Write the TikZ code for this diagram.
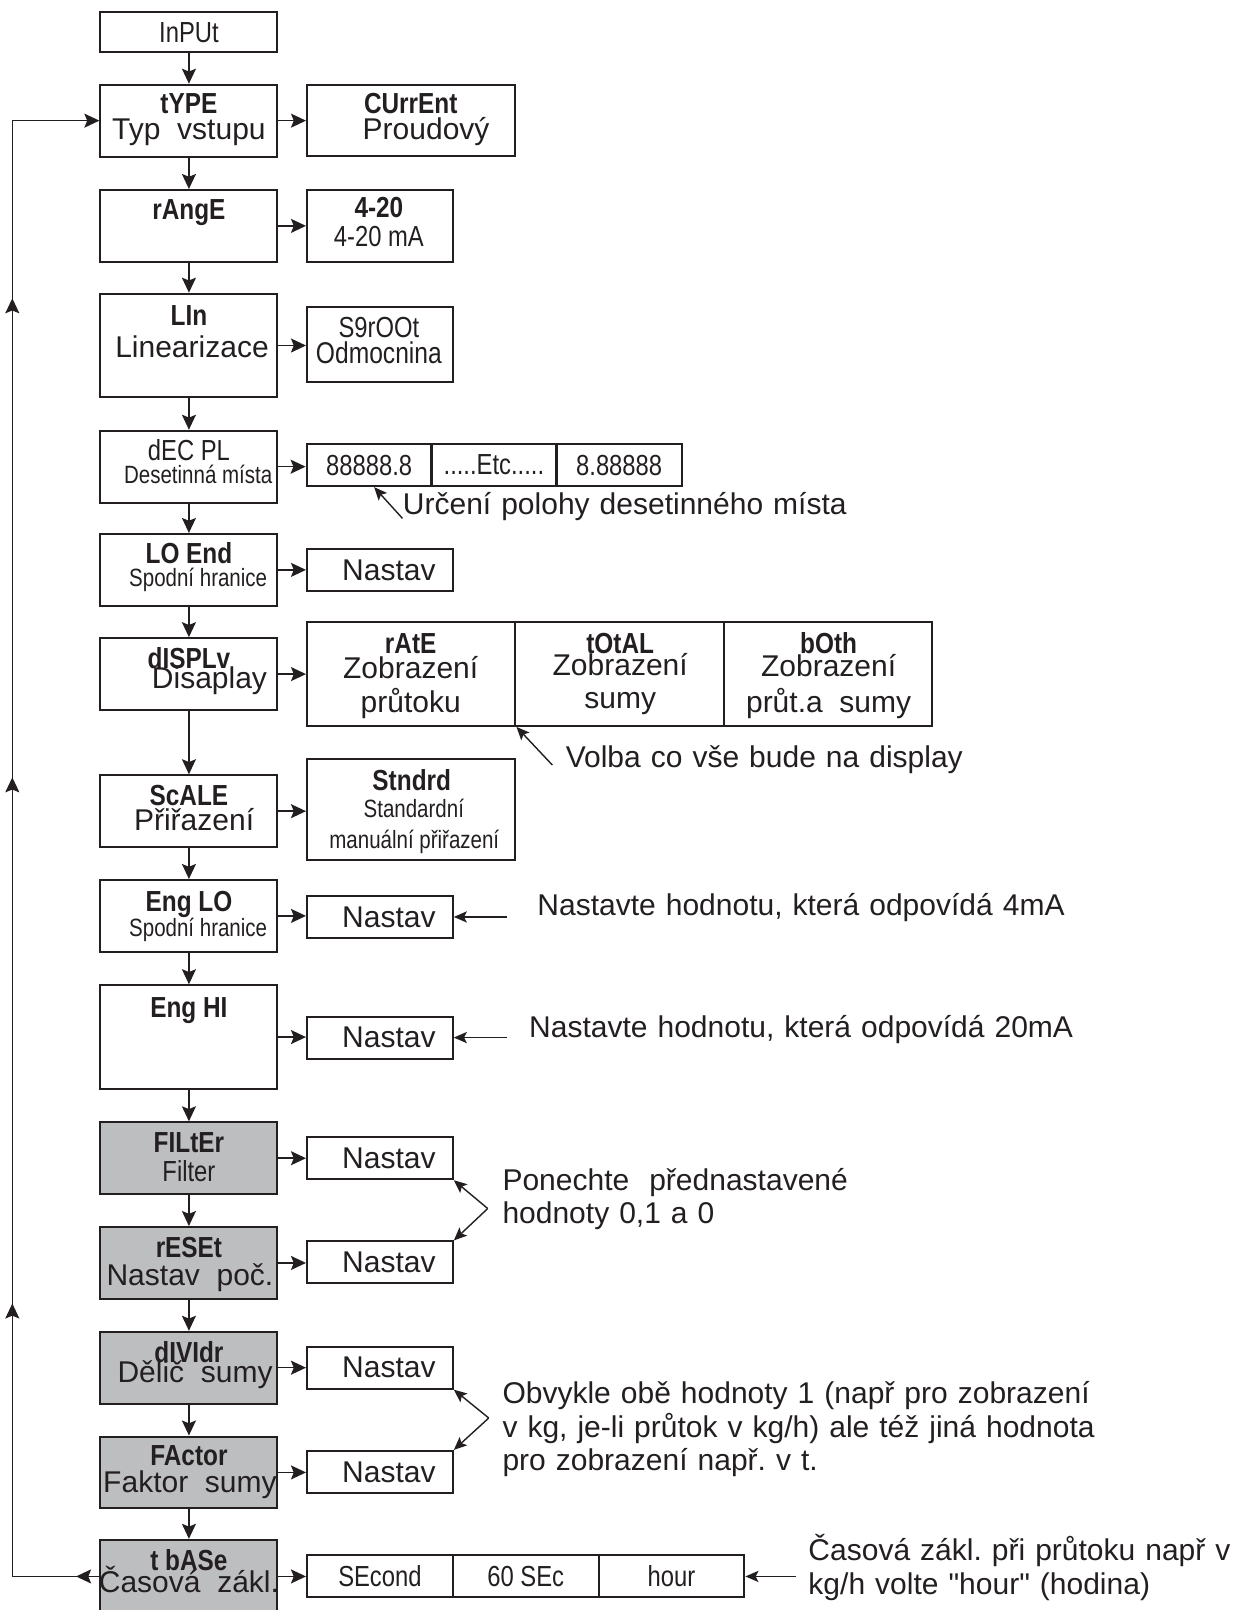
\documentclass[tikz,border=0pt]{standalone}
\usepackage{fontspec}
\setmainfont{Liberation Sans}
\newfontfamily\narrowfont[FakeStretch=0.82]{Liberation Sans}
\newfontfamily\headfont[FakeStretch=0.84]{Liberation Sans}
\usepackage{xcolor}
\usepackage{tikz}
\usetikzlibrary{arrows.meta,decorations.markings}
\frenchspacing

\definecolor{ink}{HTML}{231F20}
\definecolor{panel}{HTML}{BCBEC0}
\newcommand\straightq{{\addfontfeature{Ligatures=TeXOff}"}}

\begin{document}
\begin{tikzpicture}[
    x=0.5132pt, y=-0.5132pt,
    every node/.style={inner sep=0pt, text=ink},
    box/.style={draw=ink, line width=1pt, minimum width=88.5pt, minimum height=35.9pt},
    tallbox/.style={box, minimum height=51.8pt},
    greybox/.style={box, fill=panel},
    opt/.style={draw=ink, line width=1pt, minimum width=72.9pt, minimum height=21pt},
    wideopt/.style={opt, minimum width=104.2pt},
    cell/.style={opt, minimum width=62.5pt, nfont},
    nst/.style={opt, rfont, node contents={\hspace*{9pt}Nastav}},
    hfont/.style={font=\headfont\bfseries\fontsize{14.5}{16}\selectfont},
    rfont/.style={font=\fontsize{15}{17}\selectfont},
    nfont/.style={font=\narrowfont\fontsize{14.5}{16}\selectfont},
    sfont/.style={font=\narrowfont\fontsize{12.5}{14}\selectfont},
    hd/.style={hfont, anchor=base},
    tx/.style={rfont, anchor=base},
    nr/.style={nfont, anchor=base},
    sm/.style={sfont, anchor=base},
    note/.style={font=\fontsize{15}{16.7}\selectfont, anchor=base west, text width=330pt, align=left},
    arr/.style={-{Stealth[length=7.5pt,width=7pt,inset=1.4pt]}, draw=ink, line width=0.8pt},
    ptr/.style={-{Stealth[length=6.5pt,width=5.6pt,inset=1.4pt]}, draw=ink, line width=0.7pt},
    loopback/.style={postaction={decorate}, decoration={markings,
        mark=at position 0.0143 with {\arrow{Stealth[length=7.5pt,width=7pt,inset=1.4pt]}},
        mark=at position 0.2209 with {\arrow{Stealth[length=7.5pt,width=7pt,inset=1.4pt]}},
        mark=at position 0.5437 with {\arrow{Stealth[length=7.5pt,width=7pt,inset=1.4pt]}},
        mark=at position 0.8376 with {\arrow{Stealth[length=7.5pt,width=7pt,inset=1.4pt]}}}}
]
\useasboundingbox (0,0) rectangle (1210,1568);

% main column
\node[box, minimum height=20pt, nfont] (input) at (184,31.5) {InPUt};
\node[box] (type) at (184,117.5) {};
\node[box] (range) at (184,220) {};
\node[tallbox] (lin) at (184,336.5) {};
\node[box] (decpl) at (184,454.5) {};
\node[box] (loend) at (184,555) {};
\node[box] (displ) at (184,656.5) {};
\node[box] (scale) at (184,790) {};
\node[box] (englo) at (184,892) {};
\node[tallbox] (enghi) at (184,1010) {};
\node[greybox] (filter) at (184,1128) {};
\node[greybox] (reset) at (184,1230) {};
\node[greybox] (divider) at (184,1332) {};
\node[greybox] (factor) at (184,1434) {};
\node[greybox, minimum height=36.6pt] (tbase) at (184,1535.3) {};

\node[hd] (type-h) at (184,111) {tYPE};
\node[tx] (type-s) at (184,136) {Typ\ \ vstupu};
\node[hd] (range-h) at (184,214) {rAngE};
\node[hd] (lin-h) at (184,317) {LIn};
\node[tx] (lin-s) at (187,348) {Linearizace};
\node[nr] (decpl-h) at (184,448) {dEC PL};
\node[sm] (decpl-s) at (193,471) {Desetinná místa};
\node[hd] (loend-h) at (184,549) {LO End};
\node[sm] (loend-s) at (193,571) {Spodní hranice};
\node[hd] (displ-h) at (184,651) {dISPLv};
\node[tx] (displ-s) at (204,671) {Disaplay};
\node[hd] (scale-h) at (184,784.5) {ScALE};
\node[tx] (scale-s) at (189,809) {Přiřazení};
\node[hd] (englo-h) at (184,888) {Eng LO};
\node[sm] (englo-s) at (193,912.5) {Spodní hranice};
\node[hd] (enghi-h) at (184,990.5) {Eng HI};
\node[hd] (filter-h) at (184,1122) {FILtEr};
\node[nr] (filter-s) at (184,1151) {Filter};
\node[hd] (reset-h) at (184,1224.5) {rESEt};
\node[tx] (reset-s) at (185,1252) {Nastav\ \ poč.};
\node[hd] (divider-h) at (184,1327) {dIVIdr};
\node[tx] (divider-s) at (190,1346) {Dělič\ \ sumy};
\node[hd] (factor-h) at (184,1427.5) {FActor};
\node[tx] (factor-s) at (185,1453.5) {Faktor\ \ sumy};
\node[hd] (tbase-h) at (184,1529.5) {t bASe};
\node[tx] (tbase-s) at (184,1550.5) {Časová\ \ zákl.};

% options
\node[wideopt, minimum height=35.4pt] (current) at (400.5,117.5) {};
\node[opt, minimum height=35.9pt] (r420) at (370,220) {};
\node[opt, minimum height=37.5pt] (sqrt) at (370,335.5) {};
\node[cell] (dec1) at (359.5,453) {88888.8};
\node[cell] (dec2) at (481,453) {.....Etc.....};
\node[cell] (dec3) at (603,453) {8.88888};
\node (loset) at (370,555) [nst];
\node[wideopt, minimum height=51.8pt] (rate) at (400.5,656.5) {};
\node[wideopt, minimum height=51.8pt] (total) at (603.5,656.5) {};
\node[wideopt, minimum height=51.8pt] (both) at (806.5,656.5) {};
\node[wideopt, minimum height=50.8pt] (stndrd) at (400.5,788.5) {};
\node (engloset) at (370,893) [nst];
\node (enghiset) at (370,1010.5) [nst];
\node (filterset) at (370,1128) [nst];
\node (resetset) at (370,1229.5) [nst];
\node (dividerset) at (370,1332) [nst];
\node (factorset) at (370,1433.5) [nst];
\node[opt, nfont] (sec) at (370,1535.3) {SEcond};
\node[opt, nfont] (sixty) at (512,1535.3) {60 SEc};
\node[opt, nfont] (hour) at (654,1535.3) {hour};

\node[hd] (current-h) at (400,111) {CUrrEnt};
\node[tx] (current-s) at (415,136) {Proudový};
\node[hd] (r420-h) at (369,212) {4-20};
\node[nr] (r420-s) at (369,240) {4-20 mA};
\node[nr] (sqrt-h) at (369,329) {S9rOOt};
\node[nr, font=\narrowfont\fontsize{15}{17}\selectfont] (sqrt-s) at (369,354) {Odmocnina};
\node[hd] (rate-h) at (400,636) {rAtE};
\node[tx] (rate-a) at (400,660.5) {Zobrazení};
\node[tx] (rate-b) at (400,693.5) {průtoku};
\node[hd] (total-h) at (604,636) {tOtAL};
\node[tx] (total-a) at (604,658) {Zobrazení};
\node[tx] (total-b) at (604,690) {sumy};
\node[hd] (both-h) at (807,636) {bOth};
\node[tx] (both-a) at (807,659) {Zobrazení};
\node[tx] (both-b) at (807,693.5) {průt.a\ \ sumy};
\node[hd] (stndrd-h) at (401,770) {Stndrd};
\node[sm] (stndrd-a) at (403,796) {Standardní};
\node[sm] (stndrd-b) at (403.5,826) {manuální přiřazení};

% notes
\node[note] (n-dec) at (392,501) {Určení polohy desetinného místa};
\node[note] (n-disp) at (550.6,747) {Volba co vše bude na display};
\node[note] (n-lo) at (523,891.5) {Nastavte hodnotu, která odpovídá 4mA};
\node[note] (n-hi) at (515,1010) {Nastavte hodnotu, která odpovídá 20mA};
\node[note] (n-filt) at (489,1159.5) {Ponechte\ \ přednastavené\\hodnoty 0,1 a 0};
\node[note] (n-div) at (489,1367) {Obvykle obě hodnoty 1 (např pro zobrazení\\v kg, je-li průtok v kg/h) ale též jiná hodnota\\pro zobrazení např. v t.};
\node[note, text width=215pt] (n-tb) at (787,1520) {Časová zákl. při průtoku např v\\kg/h volte \straightq hour\straightq{} (hodina)};

\coordinate (lo-tail) at (494,893);
\coordinate (hi-tail) at (494,1010.5);
\coordinate (filt-tail) at (475,1177);
\coordinate (div-tail) at (476,1381);
\coordinate (tb-tail) at (775,1535.3);
\coordinate (loop-b) at (12,1535.3);
\coordinate (loop-t) at (12,117.5);

% flow
\foreach \a/\b in {input/type,type/range,range/lin,lin/decpl,decpl/loend,loend/displ,displ/scale,scale/englo,englo/enghi,enghi/filter,filter/reset,reset/divider,divider/factor,factor/tbase}
    \draw[arr] (\a) -- (\b);
\foreach \a/\b in {type/current,range/r420,lin/sqrt,decpl/dec1,loend/loset,displ/rate,scale/stndrd,englo/engloset,enghi/enghiset,filter/filterset,reset/resetset,divider/dividerset,factor/factorset,tbase/sec}
    \draw[arr] (\a.east) -- (\a.east -| \b.west);
\draw[arr, loopback] (tbase.west) -- (loop-b) -- (loop-t) -- (type.west);

% pointers
\draw[ptr] ([yshift=-2pt]n-dec.base west) -- ([xshift=2.5pt]dec1.south);
\draw[ptr] ([xshift=-6.5pt,yshift=1pt]n-disp.base west) -- (rate.south east);
\draw[ptr] (lo-tail) -- (engloset.east);
\draw[ptr] (hi-tail) -- (enghiset.east);
\draw[ptr] (filt-tail) -- (filterset.south east);
\draw[ptr] (filt-tail) -- (resetset.north east);
\draw[ptr] (div-tail) -- (dividerset.south east);
\draw[ptr] (div-tail) -- (factorset.north east);
\draw[ptr] (tb-tail) -- (hour.east);
\end{tikzpicture}
\end{document}
